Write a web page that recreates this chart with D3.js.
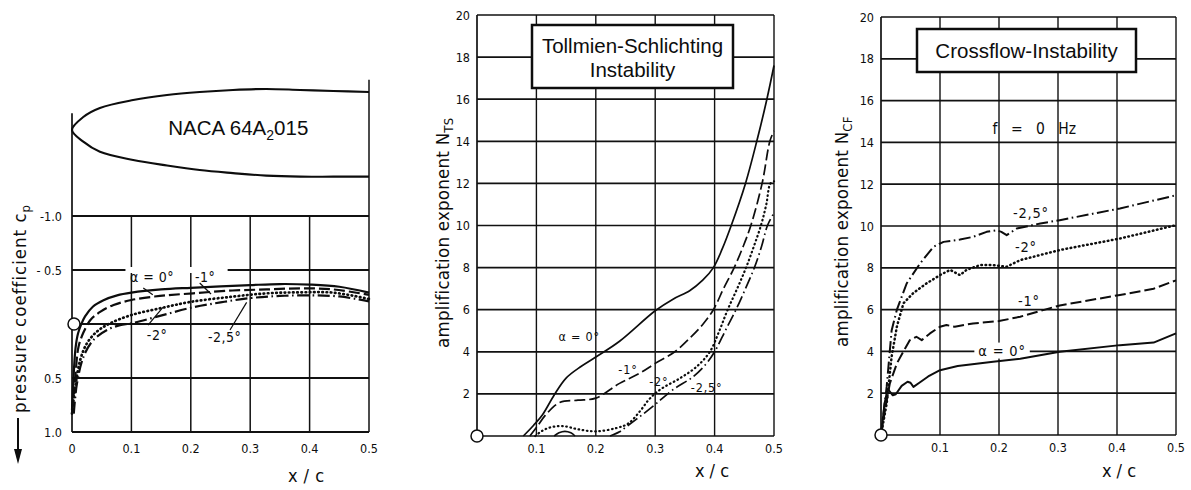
<!DOCTYPE html>
<html><head><meta charset="utf-8">
<script src="https://cdn.jsdelivr.net/npm/d3@7"></script>
<style>
body{margin:0;background:#fff;}
svg{display:block;background:#fff;}
</style></head>
<body><svg id="c" width="1191" height="490"></svg>
<script>
// ---------- DATA ----------
const xTicks = [0, 0.1, 0.2, 0.3, 0.4, 0.5];
const xTickLabels = ["0", "0.1", "0.2", "0.3", "0.4", "0.5"];
const cpTicks = [-1.0, -0.5, 0, 0.5, 1.0];
const cpTickLabels = ["-1.0", "- 0.5", "", "0.5", "1.0"];
const nTicks = [0, 2, 4, 6, 8, 10, 12, 14, 16, 18, 20];
const nTickLabels = ["", "2", "4", "6", "8", "10", "12", "14", "16", "18", "20"];
const seriesNames = ["α = 0°", "-1°", "-2°", "-2,5°"];

// airfoil contour NACA 64A2015 (x/c, z/c)
const airX     = [0, 0.019, 0.047, 0.103, 0.16, 0.215, 0.271, 0.327, 0.384, 0.44, 0.5];
const airUpper = [0, 0.0256, 0.0434, 0.059, 0.069, 0.075, 0.079, 0.081, 0.079, 0.077, 0.075];
const airLower = [0, -0.023, -0.043, -0.059, -0.070, -0.079, -0.085, -0.090, -0.092, -0.092, -0.092];

// pressure coefficient cp(x/c)
const cpAlpha0 = [[0,0.8],[0.003,0.45],[0.006,0.22],[0.01,0.09],[0.015,0.01],[0.022,-0.07],[0.035,-0.16],[0.053,-0.22],[0.076,-0.265],[0.1,-0.29],[0.15,-0.32],[0.2,-0.335],[0.25,-0.348],[0.3,-0.36],[0.35,-0.37],[0.4,-0.365],[0.45,-0.345],[0.5,-0.29]];
const cpAlpha1 = [[0,0.82],[0.0056,0.49],[0.011,0.21],[0.02,0.07],[0.031,-0.037],[0.048,-0.114],[0.07,-0.176],[0.1,-0.222],[0.148,-0.26],[0.204,-0.284],[0.27,-0.31],[0.328,-0.32],[0.384,-0.33],[0.44,-0.32],[0.5,-0.27]];
const cpAlpha2 = [[0,0.83],[0.0056,0.58],[0.014,0.33],[0.025,0.18],[0.042,0.07],[0.064,-0.006],[0.1,-0.083],[0.148,-0.145],[0.2,-0.205],[0.27,-0.253],[0.328,-0.284],[0.384,-0.293],[0.44,-0.29],[0.5,-0.232]];
const cpAlpha25 = [[0.003,0.83],[0.0084,0.55],[0.0196,0.30],[0.036,0.148],[0.059,0.056],[0.081,0.01],[0.1,-0.006],[0.148,-0.075],[0.2,-0.15],[0.25,-0.2],[0.3,-0.24],[0.35,-0.26],[0.4,-0.265],[0.45,-0.255],[0.5,-0.21]];

// Tollmien-Schlichting amplification N_TS(x/c)
const tsAlpha0 = [[0.078,0],[0.095,0.5],[0.11,1.0],[0.13,1.95],[0.15,2.75],[0.175,3.3],[0.2,3.75],[0.24,4.5],[0.3,5.95],[0.33,6.5],[0.358,6.9],[0.38,7.4],[0.398,8.0],[0.413,8.9],[0.428,10],[0.452,12],[0.471,14],[0.488,16],[0.5,17.6]];
const tsAlpha1 = [[0.089,0],[0.1,0.4],[0.117,1.05],[0.14,1.6],[0.17,1.7],[0.2,1.8],[0.24,2.5],[0.275,3.0],[0.3,3.45],[0.333,4.0],[0.36,4.7],[0.38,5.3],[0.398,6.0],[0.415,7.0],[0.433,8.0],[0.448,9.0],[0.461,10],[0.48,12],[0.493,14],[0.5,14.5]];
const tsAlpha2 = [[0.098,0],[0.11,0.25],[0.125,0.42],[0.145,0.47],[0.17,0.32],[0.2,0.22],[0.235,0.38],[0.255,0.6],[0.275,1.2],[0.29,1.75],[0.308,2.2],[0.342,2.75],[0.37,3.3],[0.392,4.0],[0.408,5.0],[0.422,6.0],[0.438,7.0],[0.453,8.0],[0.466,9.0],[0.478,10],[0.487,11],[0.494,12],[0.5,12.1]];
const tsAlpha25 = [[0.224,0],[0.24,0.2],[0.252,0.45],[0.275,0.94],[0.3,1.5],[0.33,2.2],[0.364,2.82],[0.385,3.4],[0.4,4.0],[0.418,5.0],[0.436,6.0],[0.452,7.0],[0.467,8.0],[0.479,9.0],[0.489,10],[0.5,10.6]];
const tsAlpha25Bump = [[0.13,0],[0.138,0.15],[0.148,0.22],[0.158,0.15],[0.165,0]];

// Crossflow amplification N_CF(x/c), f = 0 Hz
const cfAlpha0 = [[0,0],[0.006,1.5],[0.01,2.05],[0.013,2.15],[0.02,1.9],[0.025,1.95],[0.035,2.35],[0.045,2.55],[0.05,2.5],[0.055,2.3],[0.065,2.5],[0.08,2.8],[0.1,3.1],[0.13,3.3],[0.19,3.5],[0.236,3.65],[0.303,3.98],[0.405,4.3],[0.462,4.42],[0.5,4.86]];
const cfAlpha1 = [[0,0],[0.0068,1.2],[0.015,2.47],[0.027,3.43],[0.038,4.0],[0.049,4.54],[0.06,4.7],[0.069,4.54],[0.083,4.86],[0.1,5.18],[0.111,5.26],[0.125,5.18],[0.156,5.34],[0.2,5.45],[0.236,5.66],[0.303,6.2],[0.405,6.7],[0.462,7.0],[0.5,7.4]];
const cfAlpha2 = [[0,0],[0.0096,1.5],[0.018,3.75],[0.027,5.2],[0.038,6.3],[0.055,6.8],[0.077,7.25],[0.1,7.65],[0.117,7.9],[0.134,7.65],[0.145,7.9],[0.168,8.13],[0.19,8.13],[0.213,8.05],[0.236,8.37],[0.303,8.85],[0.405,9.4],[0.5,10.04]];
const cfAlpha25 = [[0,0],[0.0096,2.3],[0.018,5.0],[0.027,6.0],[0.0435,7.25],[0.066,8.2],[0.0887,9.0],[0.106,9.24],[0.134,9.35],[0.156,9.48],[0.179,9.72],[0.196,9.8],[0.204,9.72],[0.213,9.56],[0.23,9.88],[0.27,10.12],[0.303,10.28],[0.405,10.84],[0.5,11.47]];

// ---------- STYLE ----------
const FC = '"DejaVu Sans Condensed","DejaVu Sans",sans-serif';
const FS = '"Liberation Sans",Arial,Helvetica,sans-serif';
const INK = "#0d0d0d";
const GRID = "#111";

const svg = d3.select("#c");

function styleLine(sel, i, w) {
  const dashes = [null, "11,4", "0.6,3.6", "12,3.5,1.6,3.5"];
  sel.attr("fill", "none").attr("stroke", INK)
     .attr("stroke-width", i === 2 ? w + 0.5 : w)
     .attr("stroke-linecap", i === 2 ? "round" : "butt")
     .attr("stroke-linejoin", "round");
  if (dashes[i]) sel.attr("stroke-dasharray", dashes[i]);
  return sel;
}

function yTitle(tx, ty, main, sub, size, ls) {
  const t = svg.append("text").attr("transform", `translate(${tx},${ty}) rotate(-90)`)
    .attr("font-family", FC).attr("font-size", size).attr("letter-spacing", ls)
    .attr("fill", INK);
  t.append("tspan").text(main);
  t.append("tspan").attr("dy", 4).attr("font-size", size * 0.7).text(sub);
  return t;
}

// ================= LEFT PANEL: cp =================
const xL = d3.scaleLinear().domain([0, 0.5]).range([72, 369]);
const yL = d3.scaleLinear().domain([-1, 1]).range([216, 432]);
const yA = d3.scaleLinear().domain([0, 0.1]).range([130, 79.3]);
const gL = svg.append("g");

gL.selectAll(".hg").data(cpTicks).join("line")
  .attr("x1", xL(0)).attr("x2", xL(0.5)).attr("y1", d => yL(d)).attr("y2", d => yL(d))
  .attr("stroke", GRID).attr("stroke-width", 1.8);
gL.selectAll(".vg").data(xTicks.slice(1, -1)).join("line")
  .attr("x1", d => xL(d)).attr("x2", d => xL(d)).attr("y1", yL(-1)).attr("y2", yL(1))
  .attr("stroke", GRID).attr("stroke-width", 1.5);
gL.append("line").attr("x1", xL(0)).attr("x2", xL(0)).attr("y1", yA(0.033)).attr("y2", yL(1))
  .attr("stroke", GRID).attr("stroke-width", 1.7);
gL.append("line").attr("x1", xL(0.5)).attr("x2", xL(0.5)).attr("y1", yA(0.099)).attr("y2", yL(1))
  .attr("stroke", GRID).attr("stroke-width", 1.5);

// airfoil
const airPts = airX.map((x, i) => [x, airLower[i]]).reverse()
  .concat(airX.slice(1).map((x, i) => [x, airUpper[i + 1]]));
gL.append("path").attr("d", d3.line().x(d => xL(d[0])).y(d => yA(d[1])).curve(d3.curveCatmullRom.alpha(0.5))(airPts))
  .attr("fill", "none").attr("stroke", INK).attr("stroke-width", 2.1);
const nacaT = gL.append("text").attr("x", xL(0.28)).attr("y", 135).attr("text-anchor", "middle")
  .attr("font-family", FS).attr("font-size", 20.5).attr("fill", INK);
nacaT.append("tspan").text("NACA 64A");
nacaT.append("tspan").attr("dy", 5).attr("font-size", 14).text("2");
nacaT.append("tspan").attr("dy", -5).text("015");

// gap in -0.5 line behind labels
gL.append("rect").attr("x", xL(0.09)).attr("width", xL(0.262) - xL(0.09))
  .attr("y", yL(-0.5) - 3).attr("height", 6).attr("fill", "#fff");

// curves
const lineL = d3.line().x(d => xL(d[0])).y(d => yL(d[1])).curve(d3.curveCatmullRom.alpha(0.5));
[cpAlpha0, cpAlpha1, cpAlpha2, cpAlpha25].forEach((s, i) => {
  styleLine(gL.append("path").attr("d", lineL(s)), i, 2.2);
});

// ticks
gL.selectAll(".yt").data(cpTicks).join("text")
  .attr("x", xL(0) - 10).attr("y", d => yL(d)).attr("dy", "0.36em").attr("text-anchor", "end")
  .attr("font-family", FC).attr("font-size", 12.5).attr("fill", INK)
  .text((d, i) => cpTickLabels[i]);
gL.selectAll(".xt").data(xTicks).join("text")
  .attr("x", d => xL(d)).attr("y", yL(1) + 20.5).attr("text-anchor", "middle")
  .attr("font-family", FC).attr("font-size", 12.5).attr("fill", INK)
  .text((d, i) => xTickLabels[i]);
gL.append("circle").attr("cx", xL(0) + 2).attr("cy", yL(0)).attr("r", 6)
  .attr("fill", "#fff").attr("stroke", INK).attr("stroke-width", 1.5);

// labels with leaders
const cpLabels = [
  {t: 0, x: 0.0976, y: -0.39, l: [[0.12, -0.333], [0.136, -0.27]]},
  {t: 1, x: 0.207, y: -0.39, l: [[0.215, -0.38], [0.234, -0.278]]},
  {t: 2, x: 0.126, y: 0.15, l: [[0.128, 0.01], [0.153, -0.155]]},
  {t: 3, x: 0.229, y: 0.167, l: [[0.266, 0.056], [0.294, -0.2]]}
];
cpLabels.forEach(o => {
  gL.append("text").attr("x", xL(o.x)).attr("y", yL(o.y)).attr("font-family", FC)
    .attr("font-size", 14).attr("letter-spacing", 0.5).attr("fill", INK).text(seriesNames[o.t]);
  gL.append("line").attr("x1", xL(o.l[0][0])).attr("y1", yL(o.l[0][1]))
    .attr("x2", xL(o.l[1][0])).attr("y2", yL(o.l[1][1])).attr("stroke", INK).attr("stroke-width", 1.2);
});

yTitle(26, 413, "pressure coefficient  c", "p", 18.5, 1.0);
svg.append("line").attr("x1", 18).attr("x2", 18).attr("y1", 418).attr("y2", 452)
  .attr("stroke", INK).attr("stroke-width", 2);
svg.append("path").attr("d", "M14,449 L22,449 L18,464 Z").attr("fill", INK);
svg.append("text").attr("x", 306).attr("y", 482).attr("text-anchor", "middle")
  .attr("font-family", FC).attr("font-size", 18).attr("fill", INK).attr("word-spacing", 1).text("x / c");

// ================= generic N panel =================
function nPanel(x, y, title, series, labels, dims) {
  const g = svg.append("g");
  g.selectAll(".hg").data(nTicks).join("line")
    .attr("x1", x(0)).attr("x2", x(0.5)).attr("y1", d => y(d)).attr("y2", d => y(d))
    .attr("stroke", GRID).attr("stroke-width", 1.7);
  g.selectAll(".vg").data(xTicks).join("line")
    .attr("x1", d => x(d)).attr("x2", d => x(d)).attr("y1", y(20)).attr("y2", y(0))
    .attr("stroke", GRID).attr("stroke-width", (d, i) => (i === 0 ? 1.7 : 1.4));
  // title box
  g.append("rect").attr("x", dims.bx[0]).attr("y", dims.by[0])
    .attr("width", dims.bx[1] - dims.bx[0]).attr("height", dims.by[1] - dims.by[0])
    .attr("fill", "#fff").attr("stroke", INK).attr("stroke-width", 2.5);
  const bc = (dims.bx[0] + dims.bx[1]) / 2;
  title.forEach((t, i) => {
    g.append("text").attr("x", bc).attr("y", dims.ty + i * 24).attr("text-anchor", "middle")
      .attr("font-family", FS).attr("font-size", 20.5).attr("fill", INK).text(t);
  });
  const ln = d3.line().x(d => x(d[0])).y(d => y(d[1])).curve(dims.curve);
  series.forEach(s => styleLine(g.append("path").attr("d", ln(s.d)), s.i, dims.w));
  g.selectAll(".yt").data(nTicks).join("text")
    .attr("x", x(0) - 7).attr("y", d => y(d)).attr("dy", "0.36em").attr("text-anchor", "end")
    .attr("font-family", FC).attr("font-size", 12.5).attr("fill", INK)
    .text((d, i) => nTickLabels[i]);
  g.selectAll(".xt").data(xTicks.slice(1)).join("text")
    .attr("x", d => x(d)).attr("y", y(0) + 16.5).attr("text-anchor", "middle")
    .attr("font-family", FC).attr("font-size", 12.5).attr("fill", INK)
    .text((d, i) => xTickLabels[i + 1]);
  g.append("circle").attr("cx", x(0)).attr("cy", y(0)).attr("r", 6)
    .attr("fill", "#fff").attr("stroke", INK).attr("stroke-width", 1.5);
  labels.forEach(o => {
    const t = g.append("text").attr("x", x(o.x)).attr("y", y(o.y)).attr("font-family", FC)
      .attr("font-size", dims.lf).attr("letter-spacing", 0.8).attr("fill", INK).text(seriesNames[o.t]);
    if (o.bg) {
      const b = t.node().getBBox();
      g.insert("rect", "text").attr("x", b.x - 4).attr("y", b.y).attr("width", b.width + 8)
        .attr("height", b.height).attr("fill", "#fff");
    }
  });
  g.append("text").attr("x", dims.xc[0]).attr("y", dims.xc[1]).attr("text-anchor", "middle")
    .attr("font-family", FC).attr("font-size", 18).attr("fill", INK).text("x / c");
  return g;
}

// ================= MIDDLE PANEL: TS =================
const xM = d3.scaleLinear().domain([0, 0.5]).range([477, 774]);
const yM = d3.scaleLinear().domain([0, 20]).range([436, 15]);
nPanel(xM, yM, ["Tollmien-Schlichting", "Instability"],
  [{d: tsAlpha0, i: 0}, {d: tsAlpha1, i: 1}, {d: tsAlpha2, i: 2}, {d: tsAlpha25, i: 3}, {d: tsAlpha25Bump, i: 0}],
  [{t: 0, x: 0.137, y: 4.5}, {t: 1, x: 0.238, y: 2.95}, {t: 2, x: 0.29, y: 2.38}, {t: 3, x: 0.36, y: 2.1}],
  {bx: [532, 733], by: [25, 88], ty: 53, w: 1.7, lf: 12.5, xc: [712, 477], curve: d3.curveCatmullRom.alpha(0.5)});
yTitle(449, 348, "amplification exponent N", "TS", 18.5, 0.25);

// ================= RIGHT PANEL: CF =================
const xR = d3.scaleLinear().domain([0, 0.5]).range([881, 1176]);
const yR = d3.scaleLinear().domain([0, 20]).range([435, 17]);
const gR = nPanel(xR, yR, ["Crossflow-Instability"],
  [{d: cfAlpha0, i: 0}, {d: cfAlpha1, i: 1}, {d: cfAlpha2, i: 2}, {d: cfAlpha25, i: 3}],
  [{t: 3, x: 0.2237, y: 10.4}, {t: 2, x: 0.227, y: 8.75}, {t: 1, x: 0.232, y: 6.15}, {t: 0, x: 0.165, y: 3.8, bg: true}],
  {bx: [917, 1136], by: [29, 72], ty: 58, w: 2.0, lf: 14.5, xc: [1119, 477], curve: d3.curveLinear});
gR.append("text").attr("x", xR(0.26)).attr("y", yR(14.4)).attr("text-anchor", "middle")
  .attr("font-family", FC).attr("font-size", 15.5).attr("word-spacing", 9).attr("fill", INK).text("f = 0 Hz");
yTitle(848, 347, "amplification exponent N", "CF", 18.5, 0.25);
</script></body></html>
